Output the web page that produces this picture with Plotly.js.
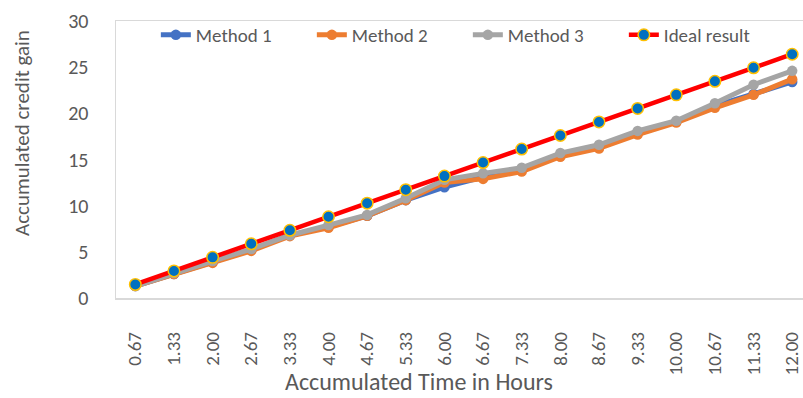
<!DOCTYPE html>
<html>
<head>
<meta charset="utf-8">
<script src="https://cdn.plot.ly/plotly-3.0.1.min.js"></script>
<style>html,body{margin:0;padding:0;overflow:hidden;background:#fff;}</style>
</head>
<body>
<div id="chart" style="width:803px;height:398px;"></div>
<script>
const hours = ["0.67","1.33","2.00","2.67","3.33","4.00","4.67","5.33","6.00","6.67","7.33","8.00","8.67","9.33","10.00","10.67","11.33","12.00"];
const method1 = [1.3, 2.6, 3.9, 5.2, 6.8, 7.7, 8.9, 10.6, 12.0, 13.1, 13.9, 15.5, 16.4, 17.9, 19.1, 20.8, 22.1, 23.4];
const method2 = [1.3, 2.6, 3.8, 5.1, 6.7, 7.6, 8.9, 10.6, 12.5, 12.9, 13.7, 15.3, 16.2, 17.7, 19.0, 20.6, 22.0, 23.7];
const method3 = [1.3, 2.7, 4.0, 5.3, 6.8, 7.9, 9.0, 10.8, 12.8, 13.5, 14.1, 15.7, 16.6, 18.1, 19.2, 21.1, 23.1, 24.6];
const ideal   = [1.47, 2.93, 4.40, 5.87, 7.33, 8.80, 10.27, 11.73, 13.20, 14.67, 16.13, 17.60, 19.07, 20.53, 22.00, 23.47, 24.93, 26.40];
const seriesNames = ["Method 1", "Method 2", "Method 3", "Ideal result"];

const FONT = "Carlito, Calibri, Lato, sans-serif";
const TXT = "#595959";

function methodTrace(name, y, color) {
  return {
    x: hours, y: y, name: name, type: "scatter", mode: "lines+markers",
    line: {color: color, width: 5},
    marker: {color: color, size: 10.5}
  };
}

const traces = [
  methodTrace(seriesNames[0], method1, "#4472C4"),
  methodTrace(seriesNames[1], method2, "#ED7D31"),
  methodTrace(seriesNames[2], method3, "#A5A5A5"),
  {
    x: hours, y: ideal, name: seriesNames[3], type: "scatter", mode: "lines+markers",
    line: {color: "#FF0000", width: 4.5},
    marker: {color: "#0070C0", size: 11.5, line: {color: "#FFC000", width: 1.5}}
  }
];

const layout = {
  width: 803, height: 398,
  margin: {l: 116, r: 0, t: 21, b: 100},
  paper_bgcolor: "#fff", plot_bgcolor: "#fff",
  font: {family: FONT, color: TXT, size: 18},
  showlegend: true,
  legend: {
    orientation: "h", x: 0.058, xanchor: "left", y: (298-35)/277, yanchor: "middle",
    font: {family: FONT, color: TXT, size: 19},
    entrywidth: 111, entrywidthmode: "pixels",
    bgcolor: "rgba(0,0,0,0)"
  },
  xaxis: {
    type: "category", range: [-0.5, 17.28],
    showgrid: false, zeroline: false,
    showline: true, linecolor: "#D9D9D9", linewidth: 1.5, mirror: true,
    ticks: "outside", ticklen: 25, tickcolor: "rgba(0,0,0,0)",
    tickangle: -90, tickfont: {family: FONT, color: TXT, size: 19},
    title: {text: ""}
  },
  yaxis: {
    range: [0, 30], dtick: 5, tick0: 0,
    showgrid: false, zeroline: false,
    showline: true, linecolor: "#D9D9D9", linewidth: 1.5, mirror: true,
    ticks: "outside", ticklen: 22, tickcolor: "rgba(0,0,0,0)",
    tickfont: {family: FONT, color: TXT, size: 20},
    title: {text: ""}
  },
  annotations: [
    {text: "Accumulated Time in Hours", xref: "paper", yref: "paper", x: (419-116)/687, y: (298-381)/277,
     xanchor: "center", yanchor: "middle", showarrow: false, font: {family: FONT, color: TXT, size: 24}},
    {text: "Accumulated credit gain", xref: "paper", yref: "paper", x: (22-116)/687, y: (298-133)/277,
     xanchor: "center", yanchor: "middle", textangle: -90, showarrow: false, font: {family: FONT, color: TXT, size: 21}}
  ]
};

Plotly.newPlot("chart", traces, layout, {displayModeBar: false, staticPlot: true});
</script>
</body>
</html>
